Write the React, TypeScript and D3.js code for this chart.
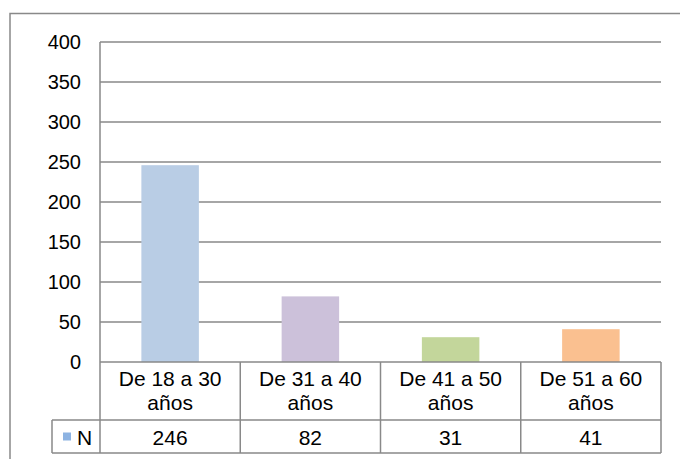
import React, { useRef, useEffect } from 'react';
import * as d3 from 'd3';

const categories = ['De 18 a 30 años', 'De 31 a 40 años', 'De 41 a 50 años', 'De 51 a 60 años'];
const categoryLines = [['De 18 a 30', 'años'], ['De 31 a 40', 'años'], ['De 41 a 50', 'años'], ['De 51 a 60', 'años']];
const values = [246, 82, 31, 41];
const barColors = ['#b9cde5', '#ccc1da', '#c3d69b', '#fac090'];
const seriesName = 'N';
const yTicks = [0, 50, 100, 150, 200, 250, 300, 350, 400];

const W = 680;
const H = 459;

const App: React.FC = () => {
  const svgRef = useRef<SVGSVGElement>(null);

  useEffect(() => {
    if (!svgRef.current) return;
    const svg = d3.select(svgRef.current);
    svg.selectAll('*').remove();

    const font = '"Liberation Sans", Arial, sans-serif';
    const lineColor = '#898989';

    const plot = { left: 100, right: 661, top: 42, bottom: 362 };
    const table = { row1: 420, row2: 453, keyLeft: 52 };

    const x = d3.scaleBand<string>()
      .domain(categories)
      .range([plot.left, plot.right])
      .padding(0);

    const y = d3.scaleLinear()
      .domain([0, 400])
      .range([plot.bottom, plot.top]);

    // outer chart border (runs past right/bottom edges)
    svg.append('rect')
      .attr('x', 10)
      .attr('y', 13.5)
      .attr('width', W + 20)
      .attr('height', H + 20)
      .attr('fill', 'none')
      .attr('stroke', lineColor)
      .attr('stroke-width', 1.5);

    // gridlines
    svg.append('g')
      .selectAll('line')
      .data(yTicks.filter(t => t > 0))
      .join('line')
      .attr('x1', plot.left)
      .attr('x2', plot.right)
      .attr('y1', d => y(d))
      .attr('y2', d => y(d))
      .attr('stroke', lineColor)
      .attr('stroke-width', 1.5);

    // y labels
    svg.append('g')
      .selectAll('text')
      .data(yTicks)
      .join('text')
      .attr('x', 81)
      .attr('y', d => y(d))
      .attr('dy', '0.37em')
      .attr('text-anchor', 'end')
      .attr('font-family', font)
      .attr('font-size', 20)
      .attr('fill', '#000')
      .text(d => d);

    // bars
    const barW = x.bandwidth() * 0.41;
    svg.append('g')
      .selectAll('rect')
      .data(values)
      .join('rect')
      .attr('x', (d, i) => x(categories[i])! + (x.bandwidth() - barW) / 2)
      .attr('y', d => y(d))
      .attr('width', barW)
      .attr('height', d => y(0) - y(d))
      .attr('fill', (d, i) => barColors[i]);

    // data table lines
    const g = svg.append('g')
      .attr('stroke', lineColor)
      .attr('stroke-width', 1.5);

    g.append('line').attr('x1', plot.left).attr('x2', plot.left).attr('y1', plot.top).attr('y2', table.row2);
    g.append('line').attr('x1', plot.left).attr('x2', plot.right).attr('y1', plot.bottom).attr('y2', plot.bottom);
    g.append('line').attr('x1', table.keyLeft).attr('x2', plot.right).attr('y1', table.row1).attr('y2', table.row1);
    g.append('line').attr('x1', table.keyLeft).attr('x2', plot.right).attr('y1', table.row2).attr('y2', table.row2);
    g.append('line').attr('x1', table.keyLeft).attr('x2', table.keyLeft).attr('y1', table.row1).attr('y2', table.row2);
    categories.forEach(c => {
      const xe = x(c)! + x.bandwidth();
      g.append('line').attr('x1', xe).attr('x2', xe).attr('y1', plot.bottom).attr('y2', table.row2);
    });

    // category labels
    categories.forEach((c, i) => {
      const cx = x(c)! + x.bandwidth() / 2;
      categoryLines[i].forEach((t, j) => {
        svg.append('text')
          .attr('x', cx)
          .attr('y', 386 + j * 24)
          .attr('text-anchor', 'middle')
          .attr('font-family', font)
          .attr('font-size', 21)
          .attr('fill', '#000')
          .text(t);
      });
      svg.append('text')
        .attr('x', cx)
        .attr('y', 445)
        .attr('text-anchor', 'middle')
        .attr('font-family', font)
        .attr('font-size', 21)
        .attr('fill', '#000')
        .text(values[i]);
    });

    // legend key
    svg.append('rect')
      .attr('x', 63)
      .attr('y', 432.5)
      .attr('width', 8)
      .attr('height', 8)
      .attr('fill', '#8db3e2');
    svg.append('text')
      .attr('x', 77)
      .attr('y', 445)
      .attr('font-family', font)
      .attr('font-size', 21)
      .attr('fill', '#000')
      .text(seriesName);
  }, []);

  return (
    <div style={{ position: 'fixed', left: 0, top: 0, width: W, height: H, background: '#fff' }}>
      <svg ref={svgRef} width={W} height={H} style={{ display: 'block' }} />
    </div>
  );
};

export default App;
